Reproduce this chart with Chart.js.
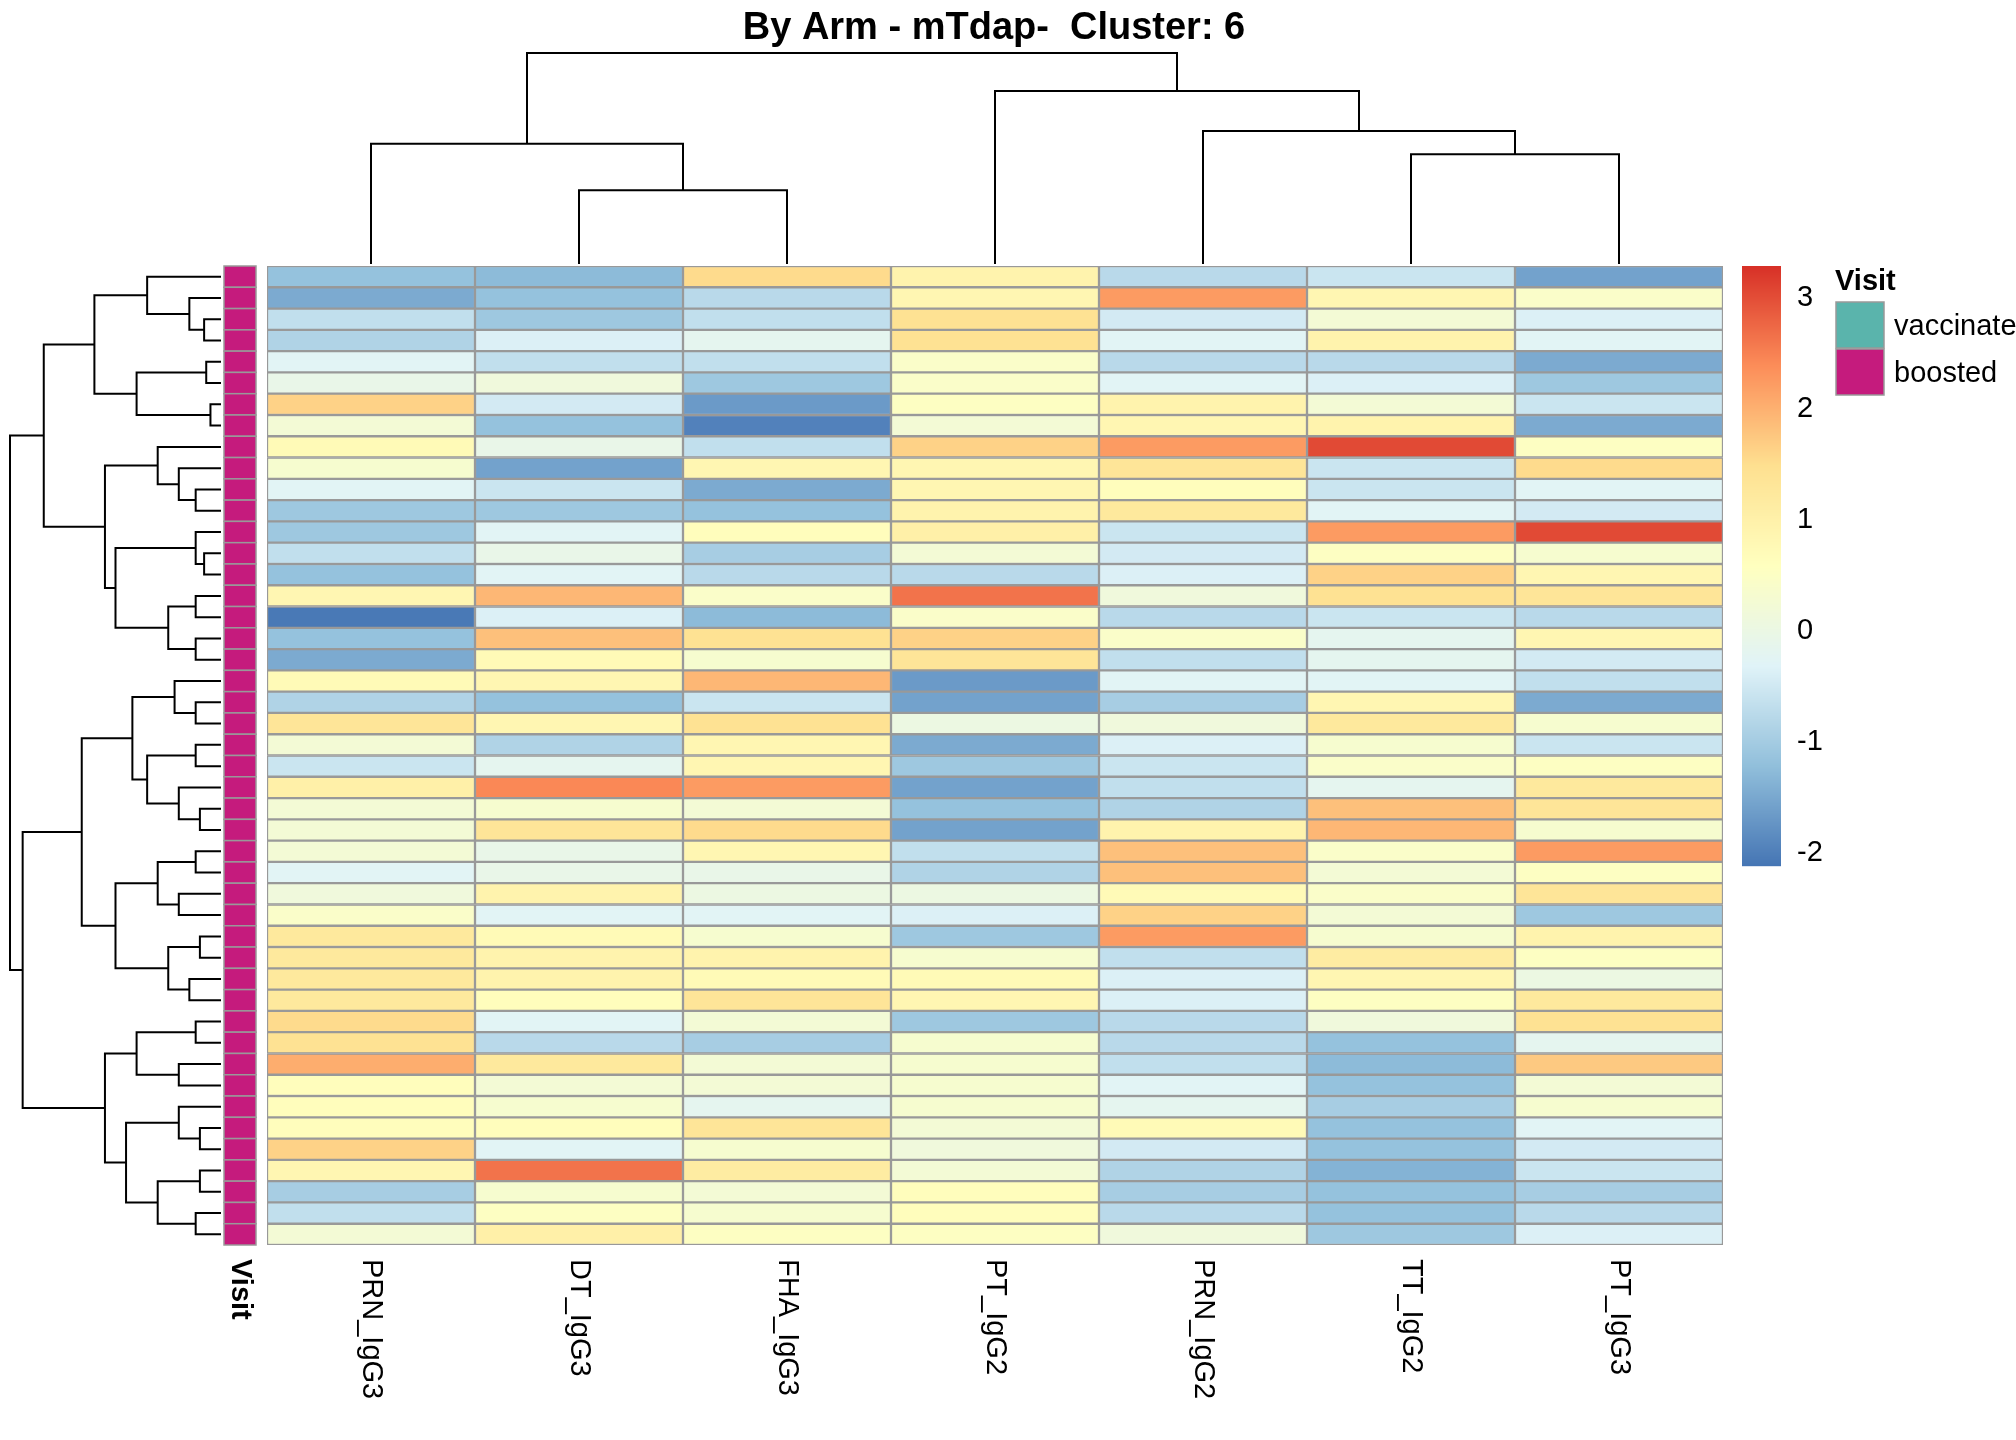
<!DOCTYPE html>
<html>
<head>
<meta charset="utf-8">
<script src="https://cdn.jsdelivr.net/npm/chart.js@4.4.1/dist/chart.umd.min.js"></script>
<style>
  html, body { margin: 0; padding: 0; background: #fff; }
  #wrap { width: 2016px; height: 1440px; }
</style>
</head>
<body>
<div id="wrap"><canvas id="canvas" width="2016" height="1440"></canvas></div>
<script>
var columns = ['PRN_IgG3', 'DT_IgG3', 'FHA_IgG3', 'PT_IgG2', 'PRN_IgG2', 'TT_IgG2', 'PT_IgG3'];

// one row per sample, values in column order
var rowValues = [
    [-1.2, -1.3, 1.5, 0.9, -0.8, -0.6, -1.6],
    [-1.5, -1.2, -0.8, 0.8, 2.2, 0.8, 0.4],
    [-0.7, -1.1, -0.7, 1.4, -0.5, 0.2, -0.4],
    [-0.9, -0.4, -0.2, 1.4, -0.3, 0.9, -0.3],
    [-0.3, -0.7, -0.7, 0.4, -0.8, -0.8, -1.5],
    [-0.1, 0.1, -1.1, 0.4, -0.3, -0.4, -1.1],
    [1.6, -0.5, -1.7, 0.5, 0.9, 0.2, -0.6],
    [0.2, -1.2, -2.0, 0.2, 0.8, 0.9, -1.5],
    [0.7, -0.1, -0.7, 1.6, 2.2, 3.0, 0.5],
    [0.3, -1.6, 0.8, 0.8, 1.3, -0.6, 1.5],
    [-0.3, -0.6, -1.5, 0.8, 0.6, -0.6, -0.3],
    [-1.1, -1.1, -1.2, 0.9, 1.2, -0.3, -0.5],
    [-1.1, -0.3, 0.6, 1.0, -0.6, 2.2, 3.0],
    [-0.7, -0.1, -1.0, 0.2, -0.5, 0.5, 0.3],
    [-1.2, -0.3, -0.8, -0.8, -0.4, 1.6, 0.8],
    [0.8, 1.9, 0.4, 2.6, 0.1, 1.4, 1.3],
    [-2.1, -0.4, -1.3, 0.4, -0.8, -0.6, -0.8],
    [-1.2, 1.8, 1.4, 1.6, 0.4, -0.2, 0.8],
    [-1.5, 0.7, 0.3, 1.3, -0.7, -0.2, -0.5],
    [0.7, 0.8, 1.9, -1.7, -0.3, -0.3, -0.7],
    [-0.9, -1.2, -0.6, -1.6, -1.0, 0.8, -1.5],
    [1.3, 0.8, 1.4, 0.0, 0.1, 1.2, 0.3],
    [0.2, -0.9, 0.8, -1.5, -0.4, 0.3, -0.6],
    [-0.6, -0.2, 0.8, -1.1, -0.6, 0.4, 0.5],
    [1.0, 2.4, 2.2, -1.6, -0.7, -0.2, 1.2],
    [0.2, 0.3, 0.2, -1.2, -0.9, 1.8, 1.3],
    [0.2, 1.3, 1.5, -1.6, 0.9, 1.9, 0.3],
    [0.2, -0.1, 0.8, -0.7, 1.8, 0.4, 2.2],
    [-0.3, -0.1, -0.1, -0.9, 1.8, 0.2, 0.5],
    [0.1, 0.9, 0.0, 0.0, 0.7, 0.4, 1.3],
    [0.4, -0.3, -0.3, -0.4, 1.6, 0.2, -1.1],
    [1.2, 0.7, 0.3, -1.1, 2.2, 0.3, 0.9],
    [1.2, 0.9, 0.9, 0.3, -0.7, 1.1, 0.5],
    [1.2, 0.9, 0.7, 0.7, -0.4, 0.8, 0.0],
    [1.2, 0.6, 1.3, 0.8, -0.4, 0.5, 1.2],
    [1.5, -0.3, 0.2, -1.1, -0.8, 0.1, 1.4],
    [1.4, -0.8, -1.0, 0.3, -0.8, -1.2, -0.2],
    [2.0, 1.2, 0.2, 0.3, -0.7, -1.3, 1.7],
    [0.6, 0.2, 0.2, 0.3, -0.3, -1.2, 0.2],
    [0.6, 0.3, -0.2, 0.3, -0.2, -1.0, 0.3],
    [0.6, 0.6, 1.3, 0.2, 0.7, -1.2, -0.3],
    [1.6, -0.3, 0.3, 0.1, -0.5, -1.2, -0.5],
    [0.8, 2.6, 1.1, 0.2, -0.9, -1.4, -0.6],
    [-1.0, 0.3, 0.2, 0.6, -1.0, -1.2, -1.0],
    [-0.7, 0.5, 0.3, 0.6, -0.8, -1.2, -0.8],
    [0.2, 1.0, 0.5, 0.5, 0.1, -1.1, -0.4]
];

// dendrograms: [height, left, right], leaves are indices
var colTree = [1, [0.57, 0, [0.35, 1, 2]], [0.82, 3, [0.63, 4, [0.52, 5, 6]]]];
var rowTree = [1,
    [0.84,
        [0.6, [0.35, 0, [0.15, 1, [0.08, 2, 3]]], [0.4, [0.07, 4, 5], [0.05, 6, 7]]],
        [0.55, [0.3, 8, [0.2, 9, [0.12, 10, 11]]],
            [0.5, [0.12, 12, [0.08, 13, 14]], [0.25, [0.12, 15, 16], [0.12, 17, 18]]]]],
    [0.94,
        [0.66,
            [0.42, [0.22, 19, [0.12, 20, 21]], [0.35, [0.12, 22, 23], [0.2, 24, [0.1, 25, 26]]]],
            [0.5, [0.3, [0.12, 27, 28], [0.2, 29, 30]], [0.25, [0.1, 31, 32], [0.15, 33, 34]]]],
        [0.55, [0.4, [0.12, 35, 36], [0.2, 37, 38]],
            [0.45, [0.2, 39, [0.1, 40, 41]], [0.3, [0.1, 42, 43], [0.12, 44, 45]]]]]];

var colorTicks = [3, 2, 1, 0, -1, -2];
var legendItems = ['vaccinated', 'boosted'];
var legendColors = ['#5AB4AC', '#C51B7D'];

var palette = ['#4575B4', '#91BFDB', '#E0F3F8', '#FFFFBF', '#FEE090', '#FC8D59', '#D73027'];
var vMin = -2.15, vMax = 3.25;

function hexRgb(h) {
    return [parseInt(h.substr(1, 2), 16), parseInt(h.substr(3, 2), 16), parseInt(h.substr(5, 2), 16)];
}
function valueColor(v) {
    var t = Math.min(1, Math.max(0, (v - vMin) / (vMax - vMin))) * (palette.length - 1);
    var i = Math.min(palette.length - 2, Math.floor(t));
    var f = t - i, a = hexRgb(palette[i]), b = hexRgb(palette[i + 1]);
    return 'rgb(' + [0, 1, 2].map(k => Math.round(a[k] + (b[k] - a[k]) * f)).join(',') + ')';
}

var datasets = rowValues.map(function (row, r) {
    return {
        label: 'row' + r,
        data: row.map(() => 1),
        backgroundColor: row.map(valueColor),
        borderColor: '#999999',
        borderWidth: 1.5,
        borderSkipped: false,
        categoryPercentage: 1,
        barPercentage: 1
    };
});

var extras = {
    id: 'extras',
    afterDraw: function (chart) {
        var ctx = chart.ctx, xs = chart.scales.x, ys = chart.scales.y, area = chart.chartArea;
        ctx.save();
        ctx.strokeStyle = '#000';
        ctx.lineWidth = 2;

        function tree(node, leafPos, toPix, horizontal) {
            if (typeof node === 'number') return { p: leafPos(node), h: 0 };
            var l = tree(node[1], leafPos, toPix, horizontal);
            var r = tree(node[2], leafPos, toPix, horizontal);
            var pts = [[l.p, l.h], [l.p, node[0]], [r.p, node[0]], [r.p, r.h]];
            ctx.beginPath();
            pts.forEach(function (q, i) {
                var a = q[0], b = toPix(q[1]);
                var px = horizontal ? a : b, py = horizontal ? b : a;
                if (i === 0) ctx.moveTo(px, py); else ctx.lineTo(px, py);
            });
            ctx.stroke();
            return { p: (l.p + r.p) / 2, h: node[0] };
        }
        tree(colTree, i => xs.getPixelForValue(i), h => area.top - 2 - h * 211, true);
        tree(rowTree, i => ys.getPixelForValue(i + 0.5), h => 221 - h * 211, false);

        // annotation column
        var n = rowValues.length;
        for (var r = 0; r < n; r++) {
            var y0 = ys.getPixelForValue(r), y1 = ys.getPixelForValue(r + 1);
            ctx.fillStyle = legendColors[1];
            ctx.fillRect(224, y0, 32, y1 - y0);
            ctx.strokeStyle = '#999999';
            ctx.lineWidth = 1.5;
            ctx.strokeRect(224, y0, 32, y1 - y0);
        }

        // column labels
        ctx.fillStyle = '#000';
        ctx.font = '29px "Liberation Sans", Arial, sans-serif';
        ctx.textAlign = 'left';
        ctx.textBaseline = 'middle';
        columns.forEach(function (c, i) {
            ctx.save();
            ctx.translate(xs.getPixelForValue(i), area.bottom + 14);
            ctx.rotate(Math.PI / 2);
            ctx.fillText(c, 0, 0);
            ctx.restore();
        });
        ctx.save();
        ctx.font = 'bold 29px "Liberation Sans", Arial, sans-serif';
        ctx.translate(240, area.bottom + 14);
        ctx.rotate(Math.PI / 2);
        ctx.fillText('Visit', 0, 0);
        ctx.restore();

        // title
        ctx.font = 'bold 38px "Liberation Sans", Arial, sans-serif';
        ctx.textAlign = 'center';
        ctx.fillText('By Arm - mTdap-  Cluster: 6', 994, 29);

        // colour bar
        var cbTop = 266, cbBot = 866, cbX = 1742, cbW = 39;
        var pxPer = (cbBot - cbTop) / (vMax - vMin);
        for (var yy = cbTop; yy < cbBot; yy++) {
            ctx.fillStyle = valueColor(vMax - (yy - cbTop + 0.5) / pxPer);
            ctx.fillRect(cbX, yy, cbW, 1.2);
        }
        ctx.fillStyle = '#000';
        ctx.font = '29px "Liberation Sans", Arial, sans-serif';
        ctx.textAlign = 'left';
        colorTicks.forEach(function (t) {
            ctx.fillText(String(t), 1797, cbTop + (vMax - t) * pxPer + 4);
        });

        // Visit legend
        ctx.font = 'bold 29px "Liberation Sans", Arial, sans-serif';
        ctx.fillText('Visit', 1835, 282);
        ctx.font = '29px "Liberation Sans", Arial, sans-serif';
        legendItems.forEach(function (it, i) {
            var by = 302 + i * 47;
            ctx.fillStyle = legendColors[i];
            ctx.fillRect(1836, by, 48, 46);
            ctx.strokeStyle = '#999999';
            ctx.lineWidth = 1.5;
            ctx.strokeRect(1836, by, 48, 46);
            ctx.fillStyle = '#000';
            ctx.fillText(it, 1894, by + 25);
        });
        ctx.restore();
    }
};

window.onload = function () {
    var ctx = document.getElementById('canvas').getContext('2d');
    new Chart(ctx, {
        type: 'bar',
        data: { labels: columns, datasets: datasets },
        options: {
            responsive: false,
            animation: false,
            layout: { padding: { left: 267, right: 293, top: 266, bottom: 195 } },
            plugins: { legend: { display: false }, tooltip: { enabled: false } },
            scales: {
                x: { stacked: true, display: false },
                y: { stacked: true, display: false, reverse: true, min: 0, max: rowValues.length }
            }
        },
        plugins: [extras]
    });
};
</script>
</body>
</html>
